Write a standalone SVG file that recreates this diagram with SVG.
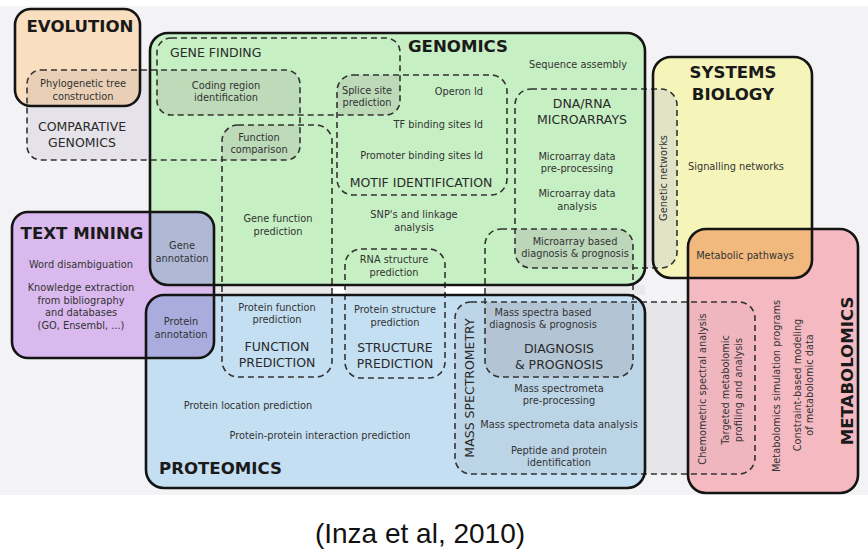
<svg xmlns="http://www.w3.org/2000/svg" width="868" height="549" viewBox="0 0 868 549">
<style>
.box{stroke:#141414;stroke-width:2.6;fill:none}
.dash{stroke:#333;stroke-width:1.6;stroke-dasharray:6 4;fill:none}
text{font-family:"DejaVu Sans","Liberation Sans",sans-serif;fill:#333;font-size:9.8px}
.t{font-weight:bold;font-size:16.6px;fill:#1a1a1a}
.s{font-size:12.5px;fill:#2a2a2a}
.m{text-anchor:middle}
.e{text-anchor:end}
</style>
<defs>
<rect id="rEvo" x="15" y="9" width="125" height="97" rx="16"/>
<rect id="rGen" x="150" y="33" width="495" height="252" rx="18"/>
<rect id="rSys" x="653" y="57" width="159" height="221" rx="18"/>
<rect id="rTxt" x="12" y="212" width="202" height="146" rx="16"/>
<rect id="rPro" x="146" y="295" width="499" height="193" rx="18"/>
<rect id="rMet" x="688" y="229" width="170" height="264" rx="18"/>
<rect id="rComp" x="27" y="70" width="273" height="90" rx="14"/>
<rect id="rGF" x="157" y="38" width="243" height="77" rx="14"/>
<rect id="rFP" x="222" y="125" width="110" height="252" rx="16"/>
<rect id="rMotif" x="337" y="75" width="170" height="120" rx="16"/>
<rect id="rMicro" x="515" y="89" width="162" height="179" rx="16"/>
<rect id="rDiag" x="485" y="229" width="148" height="148" rx="16"/>
<rect id="rMass" x="455" y="302" width="300" height="172" rx="16"/>
<rect id="rStruct" x="345" y="249" width="100" height="129" rx="16"/>
<clipPath id="cEvo"><use href="#rEvo"/></clipPath>
<clipPath id="cGen"><use href="#rGen"/></clipPath>
<clipPath id="cSys"><use href="#rSys"/></clipPath>
<clipPath id="cPro"><use href="#rPro"/></clipPath>
<clipPath id="cMet"><use href="#rMet"/></clipPath>
<clipPath id="cComp"><use href="#rComp"/></clipPath>
<clipPath id="cGF"><use href="#rGF"/></clipPath>
<clipPath id="cMicro"><use href="#rMicro"/></clipPath>
<clipPath id="cMass"><use href="#rMass"/></clipPath>
</defs>

<rect x="0" y="6" width="868" height="489" fill="#f3f3f5"/>
<rect x="150" y="285" width="495" height="10" fill="#e9e9eb"/>
<rect x="332" y="286" width="13" height="8" fill="#ffffff"/>
<rect x="445" y="286" width="40" height="8" fill="#ffffff"/>

<g id="fills">
<use href="#rComp" fill="#e5e3e9"/>
<use href="#rMicro" fill="#e4e4e4"/>
<use href="#rMass" fill="#e6e6e8"/>
<use href="#rEvo" fill="#f9dfbf"/>
<use href="#rGen" fill="#c6efc3"/>
<use href="#rSys" fill="#f5f5ba"/>
<use href="#rTxt" fill="#d9b9ee"/>
<use href="#rPro" fill="#c4dff2"/>
<use href="#rMet" fill="#f5b9c2"/>
<use href="#rComp" fill="#e8cfb5" clip-path="url(#cEvo)"/>
<use href="#rTxt" fill="#afb9d6" clip-path="url(#cGen)"/>
<use href="#rTxt" fill="#aaacde" clip-path="url(#cPro)"/>
<use href="#rMet" fill="#f2b97e" clip-path="url(#cSys)"/>
<use href="#rMicro" fill="#e0e3c5" clip-path="url(#cSys)"/>
<use href="#rMass" fill="#bbd4e6" clip-path="url(#cPro)"/>
<use href="#rMass" fill="#f0b6bf" clip-path="url(#cMet)"/>
<use href="#rGF" fill="#bddbb9" clip-path="url(#cComp)"/>
<use href="#rFP" fill="#bddbb9" clip-path="url(#cComp)"/>
<use href="#rMotif" fill="#bddab8" clip-path="url(#cGF)"/>
<use href="#rDiag" fill="#bbd6b9" clip-path="url(#cMicro)"/>
<use href="#rDiag" fill="#b3c5d5" clip-path="url(#cMass)"/>
</g>

<g id="connectors">
<use href="#rComp" class="dash"/>
<use href="#rGF" class="dash"/>
<use href="#rFP" class="dash"/>
<use href="#rMotif" class="dash"/>
<use href="#rMicro" class="dash"/>
<use href="#rDiag" class="dash"/>
<use href="#rMass" class="dash"/>
<use href="#rStruct" class="dash"/>
</g>

<g id="evolution">
<use href="#rEvo" class="box"/>
<text class="t m" x="80" y="32">EVOLUTION</text>
</g>
<g id="comparative-genomics">
<text class="m" x="83" y="87">Phylogenetic tree<tspan x="83" dy="13">construction</tspan></text>
<text class="s m" x="82" y="131">COMPARATIVE<tspan x="82" dy="16">GENOMICS</tspan></text>
</g>
<g id="genomics">
<use href="#rGen" class="box"/>
<text class="t m" x="458" y="52">GENOMICS</text>
<text class="m" x="578" y="68">Sequence assembly</text>
<text class="m" x="414" y="218">SNP's and linkage<tspan x="414" dy="13">analysis</tspan></text>
</g>
<g id="gene-finding">
<text class="s" x="170" y="57">GENE FINDING</text>
<text class="m" x="226" y="89">Coding region<tspan x="226" dy="12">identification</tspan></text>
<text class="m" x="367" y="94">Splice site<tspan x="367" dy="12">prediction</tspan></text>
</g>
<g id="motif-identification">
<text class="e" x="483" y="95">Operon Id</text>
<text class="e" x="483" y="128">TF binding sites Id</text>
<text class="e" x="483" y="159">Promoter binding sites Id</text>
<text class="s m" x="421" y="187">MOTIF IDENTIFICATION</text>
</g>
<g id="microarrays">
<text class="s m" x="582" y="108">DNA/RNA<tspan x="582" dy="16">MICROARRAYS</tspan></text>
<text class="m" x="577" y="160">Microarray data<tspan x="577" dy="12">pre-processing</tspan></text>
<text class="m" x="577" y="197">Microarray data<tspan x="577" dy="13">analysis</tspan></text>
<text class="m" x="575" y="245">Microarray based<tspan x="575" dy="12">diagnosis &amp; prognosis</tspan></text>
</g>
<g id="function-prediction">
<text class="m" x="259" y="141">Function<tspan x="259" dy="12">comparison</tspan></text>
<text class="m" x="278" y="222">Gene function<tspan x="278" dy="13">prediction</tspan></text>
<text class="m" x="277" y="311">Protein function<tspan x="277" dy="12">prediction</tspan></text>
<text class="s m" x="277" y="351">FUNCTION<tspan x="277" dy="16">PREDICTION</tspan></text>
</g>
<g id="structure-prediction">
<text class="m" x="394" y="263">RNA structure<tspan x="394" dy="13">prediction</tspan></text>
<text class="m" x="395" y="313">Protein structure<tspan x="395" dy="13">prediction</tspan></text>
<text class="s m" x="395" y="352">STRUCTURE<tspan x="395" dy="16">PREDICTION</tspan></text>
</g>
<g id="systems-biology">
<use href="#rSys" class="box"/>
<text class="t m" x="733" y="78">SYSTEMS<tspan x="733" dy="22">BIOLOGY</tspan></text>
<text class="m" x="736" y="170">Signalling networks</text>
<text class="m" transform="translate(664,178) rotate(-90)" dy=".35em">Genetic networks</text>
<text class="m" x="745" y="259">Metabolic pathways</text>
</g>
<g id="text-mining">
<use href="#rTxt" class="box"/>
<text class="t m" x="82" y="239">TEXT MINING</text>
<text class="m" x="81" y="268">Word disambiguation</text>
<text class="m" x="81" y="291">Knowledge extraction<tspan x="81" dy="12.7">from bibliography</tspan><tspan x="81" dy="12.7">and databases</tspan><tspan x="81" dy="12.7">(GO, Ensembl, ...)</tspan></text>
<text class="m" x="182" y="249">Gene<tspan x="182" dy="13">annotation</tspan></text>
<text class="m" x="181" y="325">Protein<tspan x="181" dy="13">annotation</tspan></text>
</g>
<g id="proteomics">
<use href="#rPro" class="box"/>
<text class="m" x="248" y="409">Protein location prediction</text>
<text class="m" x="320" y="439">Protein-protein interaction prediction</text>
<text class="t" x="159" y="474">PROTEOMICS</text>
</g>
<g id="diagnosis-prognosis">
<text class="m" x="543" y="316">Mass spectra based<tspan x="543" dy="11.5">diagnosis &amp; prognosis</tspan></text>
<text class="s m" x="559" y="353">DIAGNOSIS<tspan x="559" dy="16">&amp; PROGNOSIS</tspan></text>
</g>
<g id="mass-spectrometry">
<text class="s m" transform="translate(469,388) rotate(-90)" dy=".36em">MASS SPECTROMETRY</text>
<text class="m" x="559" y="392">Mass spectrometa<tspan x="559" dy="12">pre-processing</tspan></text>
<text class="m" x="559" y="428">Mass spectrometa data analysis</text>
<text class="m" x="559" y="454">Peptide and protein<tspan x="559" dy="12">identification</tspan></text>
<text class="m" transform="translate(703,389) rotate(-90)" dy=".35em">Chemometric spectral analysis</text>
<text class="m" transform="translate(726,390) rotate(-90)" dy=".35em">Targeted metabolomic</text>
<text class="m" transform="translate(739,390) rotate(-90)" dy=".35em">profiling and analysis</text>
</g>
<g id="metabolomics">
<use href="#rMet" class="box"/>
<text class="t m" transform="translate(847,371) rotate(-90)" dy=".36em">METABOLOMICS</text>
<text class="m" transform="translate(777,386) rotate(-90)" dy=".35em">Metabolomics simulation programs</text>
<text class="m" transform="translate(798,385) rotate(-90)" dy=".35em">Constraint-based modeling</text>
<text class="m" transform="translate(810,385) rotate(-90)" dy=".35em">of metabolomic data</text>
</g>
<text x="420" y="543" text-anchor="middle" style="font-family:'Liberation Sans',Arial,sans-serif;font-size:28px;fill:#111">(Inza et al, 2010)</text>
</svg>
